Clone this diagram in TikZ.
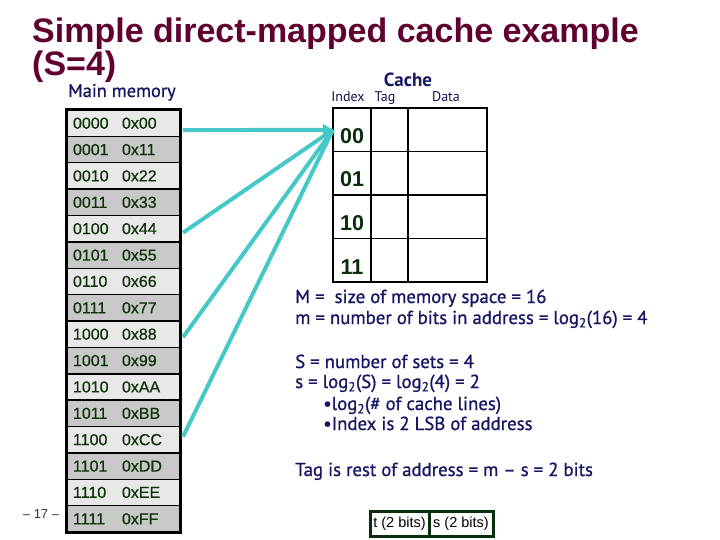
\documentclass[tikz,border=0pt]{standalone}
\usepackage{fontspec}
\setmainfont{PT Sans}
\newfontfamily\arialf{Liberation Sans}
\newfontfamily\arialm{Liberation Sans}[FakeBold=0.6]
\newfontfamily\semif{PT Sans}[FakeBold=0.9]
\usetikzlibrary{arrows.meta}
\definecolor{titlec}{RGB}{96,0,48}
\definecolor{navy}{RGB}{22,22,100}
\definecolor{memtext}{RGB}{15,50,10}
\definecolor{idxtext}{RGB}{10,45,10}
\definecolor{teal}{RGB}{70,200,200}
\definecolor{memlight}{RGB}{232,232,232}
\definecolor{memdark}{RGB}{200,200,200}
\definecolor{boxgreen}{RGB}{10,45,10}
\begin{document}
\begin{tikzpicture}[x=1pt,y=-1pt,
  memrow/.style={draw=black, line width=1.5pt, minimum height=26.375pt, inner xsep=7pt, inner ysep=0pt,
    outer sep=0pt, anchor=north west, text width=100pt, align=left, text=memtext,
    font=\arialm\fontsize{16}{16}\selectfont},
  cell/.style={draw=black, line width=1.2pt, minimum height=43.5pt, inner sep=0pt, outer sep=0pt, anchor=north west},
  idx/.style={anchor=base, text=idxtext, inner sep=0pt, font=\arialf\bfseries\fontsize{21.5}{21.5}\selectfont},
  head/.style={inner sep=0pt, text=navy},
  colhead/.style={anchor=base, inner sep=0pt, text=navy!80!black, font=\fontsize{14}{14}\selectfont},
  txt/.style={anchor=base west, inner sep=0pt, text=navy, font=\semif\fontsize{18.8}{20}\selectfont},
  link/.style={draw=teal, line width=4pt},
  bitbox/.style={draw=boxgreen, line width=3pt, fill=white, minimum height=25pt, inner sep=0pt, outer sep=0pt,
    anchor=north west, font=\arialf\fontsize{14.5}{14.5}\selectfont}
]
\useasboundingbox (0,0) rectangle (720,540);
% title
\node[anchor=base west, inner sep=0pt, text=titlec, font=\arialf\bfseries\fontsize{34}{34}\selectfont] (t1) at (32,43) {Simple direct-mapped cache example};
\node[anchor=base west, inner sep=0pt, text=titlec, font=\arialf\bfseries\fontsize{34}{34}\selectfont] (t2) at (32,76) {(S=4)};
% main memory
\node[anchor=base west, head, font=\semif\fontsize{18.4}{18.4}\selectfont] (mmlab) at (68,97) {Main memory};
\foreach \a/\v/\c [count=\i from 0] in {0000/0x00/memlight,0001/0x11/memdark,0010/0x22/memlight,0011/0x33/memdark,
  0100/0x44/memlight,0101/0x55/memdark,0110/0x66/memlight,0111/0x77/memdark,
  1000/0x88/memlight,1001/0x99/memdark,1010/0xAA/memlight,1011/0xBB/memdark,
  1100/0xCC/memlight,1101/0xDD/memdark,1110/0xEE/memlight,1111/0xFF/memdark}
  \node[memrow, fill=\c] (m\i) at (66,110+26.375*\i) {\makebox[49pt][l]{\a}\v};
\draw[line width=3pt] (m0.north west) rectangle (m15.south east);
\node[anchor=center, inner sep=0pt, text=black!80, font=\arialf\fontsize{13}{13}\selectfont] (pg) at (41,514) {– 17 –};
% cache
\node[head, font=\bfseries\fontsize{19}{19}\selectfont] (cachelab) at (408,80) {Cache};
\node[colhead] (hidx) at (348,102) {Index};
\node[colhead] (htag) at (385,102) {Tag};
\node[colhead] (hdata) at (446,102) {Data};
\foreach \l [count=\i from 0] in {00,01,10,11}{
  \node[cell, minimum width=38pt] (c\i) at (333,108+43.5*\i) {};
  \node[cell, minimum width=37pt] (g\i) at (371,108+43.5*\i) {};
  \node[cell, minimum width=79pt] (d\i) at (408,108+43.5*\i) {};
  \node[idx] (l\i) at ([yshift=8pt]c\i.south) {\l};
}
% connectors
\draw[link] ([xshift=3pt,yshift=-4pt]m4.east) -- (c0.west);
\draw[link] ([xshift=3pt,yshift=-3pt]m8.east) -- (c0.west);
\draw[link] ([xshift=3pt,yshift=3pt]m12.east) -- (c0.west);
\draw[link, -{Triangle[length=10pt,width=11pt]}] ([xshift=3pt,yshift=-7pt]m0.east) -- (c0.west);
% text
\node[txt] (e1) at (295,303) {M =\ \ size of memory space = 16};
\node[txt] (e2) at (295,324) {m = number of bits in address = log\textsubscript{2}(16) = 4};
\node[txt] (e3) at (295,368) {S = number of sets = 4};
\node[txt] (e4) at (295,388) {s = log\textsubscript{2}(S) = log\textsubscript{2}(4) = 2};
\node[txt] (e5) at (323,410) {•log\textsubscript{2}(\# of cache lines)};
\node[txt] (e6) at (323,430) {•Index is 2 LSB of address};
\node[txt] (e7) at (295,476) {Tag is rest of address = m – s = 2 bits};
% bit fields
\node[bitbox, minimum width=59pt] (tb) at (370,511) {t (2 bits)};
\node[bitbox, minimum width=64pt] (sb) at (429,511) {s (2 bits)};
\end{tikzpicture}
\end{document}
